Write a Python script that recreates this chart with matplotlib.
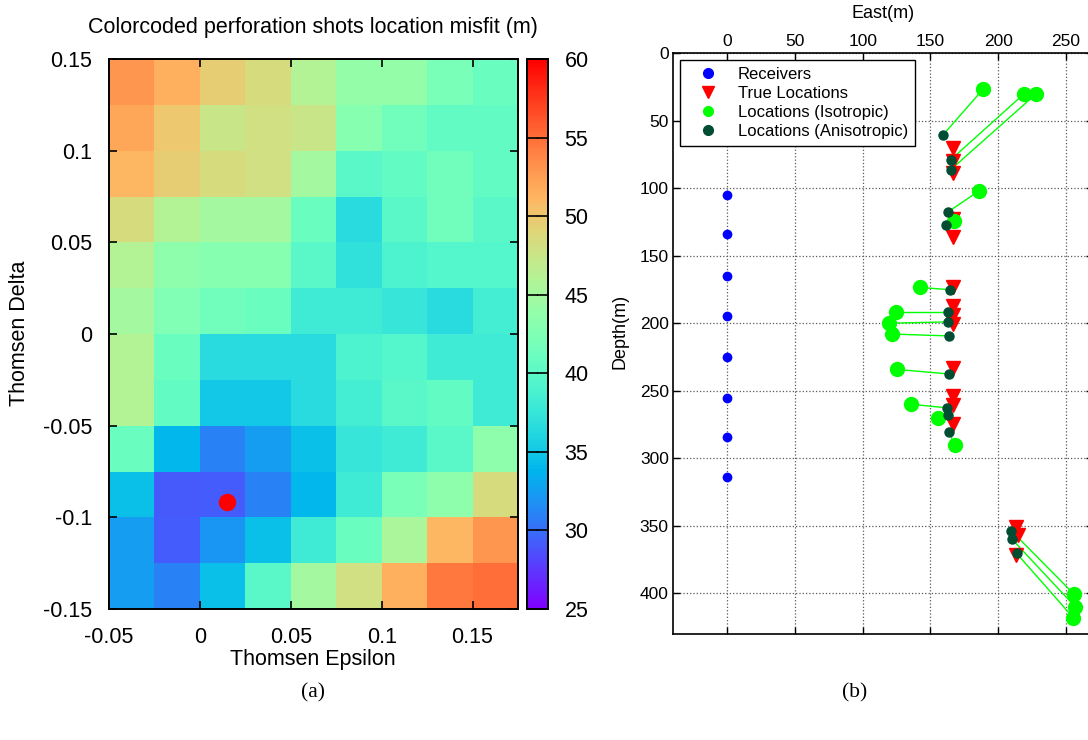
import matplotlib
matplotlib.use("Agg")
import matplotlib.pyplot as plt
from matplotlib.lines import Line2D
import numpy as np

plt.rcParams['font.family'] = ['Liberation Sans', 'DejaVu Sans']
plt.rcParams['axes.unicode_minus'] = False

# ---- (a) misfit grid, rows from delta = 0.15 (top) down to -0.15 ----
epsilon_edges = np.round(np.arange(-0.05, 0.176, 0.025), 3)
delta_edges = np.round(np.arange(0.15, -0.151, -0.025), 3)
misfit = np.array([
    [53.0, 51.5, 49.5, 48.5, 46.0, 44.0, 44.0, 42.0, 41.0],
    [52.0, 50.0, 47.5, 48.0, 47.5, 43.0, 41.5, 40.5, 40.5],
    [51.0, 49.5, 48.5, 48.0, 45.0, 40.0, 40.5, 41.5, 40.5],
    [48.5, 46.0, 45.0, 45.0, 41.0, 36.5, 40.0, 41.5, 40.0],
    [46.0, 43.5, 43.0, 43.0, 40.0, 37.0, 39.0, 39.5, 39.5],
    [45.0, 42.5, 41.5, 41.0, 38.0, 38.0, 37.5, 36.5, 38.5],
    [46.0, 41.0, 36.5, 36.5, 36.5, 39.0, 39.5, 38.0, 38.0],
    [46.0, 40.5, 35.0, 35.0, 36.5, 38.5, 40.0, 40.5, 38.0],
    [41.0, 34.0, 31.0, 32.5, 34.5, 37.5, 38.0, 40.0, 43.5],
    [34.5, 29.0, 29.2, 31.0, 34.0, 38.0, 42.0, 43.5, 48.5],
    [32.5, 29.2, 32.0, 34.5, 38.0, 41.0, 45.5, 51.0, 53.0],
    [32.5, 31.0, 34.5, 40.0, 45.0, 48.0, 51.5, 54.5, 55.0],
])
best_epsilon = 0.015
best_delta = -0.0915

# ---- (b) receivers and perforation shots ----
receiver_east = [0, 0, 0, 0, 0, 0, 0, 0]
receiver_depth = [105, 134, 165, 195, 225, 255, 284, 314]

true_east = [167, 167, 167, 167, 167, 167, 167, 167, 167, 167, 167, 167, 167, 213.5, 214.5, 213.5]
true_depth = [70, 80, 89, 122.5, 136.5, 173.3, 187.6, 194, 200.5, 233.4, 254, 260.6, 274.8, 351, 356.6, 371.4]
iso_east = [189, 219, 228, 185.7, 167.7, 142.6, 124.6, 119.2, 121.4, 125.4, 136, 155.4, 168, 255.7, 257, 255.5]
iso_depth = [26.6, 30.3, 30.3, 102.2, 124.3, 173.5, 192, 200, 208, 234.2, 260, 269.8, 290.2, 400.2, 410, 418]
aniso_east = [159, 165, 165, 163, 161.6, 164.3, 163, 163, 164, 164, 162, 162.8, 163.8, 209.7, 210.2, 213.7]
aniso_depth = [61, 79, 86.3, 117.6, 127.2, 175.2, 192, 199, 209.4, 237.6, 262.6, 268, 280.7, 353.6, 359.8, 370.4]

W, H = 1088, 740
fig = plt.figure(figsize=(W / 100, H / 100), dpi=100)


def box(l, t, r, b):
    return [l / W, 1 - b / H, (r - l) / W, (b - t) / H]


# ---------------- panel (a) ----------------
ax1 = fig.add_axes(box(109, 59, 518, 609))
mesh = ax1.pcolormesh(epsilon_edges, delta_edges, misfit, cmap='rainbow',
                      vmin=25, vmax=60, shading='flat', antialiased=False)
ax1.plot(best_epsilon, best_delta, 'o', color='#ff0000', markersize=11.5, mec='#ff0000')
ax1.set_xlim(-0.05, 0.175)
ax1.set_ylim(-0.15, 0.15)
ax1.set_xticks([-0.05, 0, 0.05, 0.1, 0.15])
ax1.set_yticks([-0.15, -0.1, -0.05, 0, 0.05, 0.1, 0.15])
ax1.set_xticklabels(['-0.05', '0', '0.05', '0.1', '0.15'])
ax1.set_yticklabels(['-0.15', '-0.1', '-0.05', '0', '0.05', '0.1', '0.15'])
ax1.tick_params(direction='in', length=6, width=1.2, top=True, right=True,
                labelsize=15.5, pad=12)
ax1.tick_params(axis='x', pad=13)
for s in ax1.spines.values():
    s.set_linewidth(1.4)

fig.text(313 / W, 1 - 27 / H, 'Colorcoded perforation shots location misfit (m)',
         ha='center', va='center', fontsize=15.5)
fig.text(313 / W, 1 - 659 / H, 'Thomsen Epsilon', ha='center', va='center', fontsize=15.5)
fig.text(20 / W, 1 - 333 / H, 'Thomsen Delta', ha='center', va='center',
         rotation=90, fontsize=15.5)

cax = fig.add_axes(box(527, 59, 548, 609))
cb = fig.colorbar(mesh, cax=cax, ticks=[25, 30, 35, 40, 45, 50, 55, 60])
cb.outline.set_linewidth(1.4)
cax.tick_params(direction='in', length=8, width=1.2, left=True, right=True,
                labelsize=15.5, pad=12)

# ---------------- panel (b) ----------------
ax2 = fig.add_axes(box(673, 53, 1093, 634))
for xe, xi, ye, yi in zip(aniso_east, iso_east, aniso_depth, iso_depth):
    ax2.plot([xe, xi], [ye, yi], '-', color='#00ff00', linewidth=1.0, zorder=2)
ax2.plot(receiver_east, receiver_depth, 'o', color='#0000ff', markersize=6, zorder=3)
ax2.plot(true_east, true_depth, 'v', color='#ff0000', markersize=10, zorder=3)
ax2.plot(iso_east, iso_depth, 'o', color='#00ff00', markersize=10, zorder=4)
ax2.plot(aniso_east, aniso_depth, 'o', color='#004d33', markersize=6.5, zorder=5)

ax2.set_xlim(-40, 270)
ax2.set_ylim(430, 0)
ax2.set_xticks([0, 50, 100, 150, 200, 250])
ax2.set_yticks([0, 50, 100, 150, 200, 250, 300, 350, 400])
ax2.grid(True, linestyle=':', color='0.35', linewidth=0.9)
ax2.tick_params(direction='in', length=5, width=1.0, top=True, bottom=True,
                right=True, labeltop=True, labelbottom=False, labelsize=12.5, pad=3)
for s in ax2.spines.values():
    s.set_linewidth(1.2)

fig.text(883 / W, 1 - 14 / H, 'East(m)', ha='center', va='center', fontsize=13)
fig.text(620 / W, 1 - 331 / H, 'Depth(m)', ha='center', va='center',
         rotation=90, fontsize=13)

handles = [
    Line2D([], [], ls='none', marker='o', color='#0000ff', markersize=7),
    Line2D([], [], ls='none', marker='v', color='#ff0000', markersize=8),
    Line2D([], [], ls='none', marker='o', color='#00ff00', markersize=7),
    Line2D([], [], ls='none', marker='o', color='#004d33', markersize=7),
]
labels = ['Receivers', 'True Locations', 'Locations (Isotropic)', 'Locations (Anisotropic)']
leg = ax2.legend(handles, labels, loc='upper left', bbox_to_anchor=(0.016, 0.988),
                 borderaxespad=0, fontsize=12, fancybox=False, framealpha=1,
                 edgecolor='black', labelspacing=0.25, handletextpad=0.5,
                 borderpad=0.4, handlelength=2.6)
leg.get_frame().set_linewidth(1.0)

fig.text(313 / W, 1 - 693 / H, '(a)', ha='center', va='center', fontsize=15.5,
         family='Liberation Serif')
fig.text(855 / W, 1 - 693 / H, '(b)', ha='center', va='center', fontsize=15.5,
         family='Liberation Serif')

fig.savefig('out.png', dpi=100)
